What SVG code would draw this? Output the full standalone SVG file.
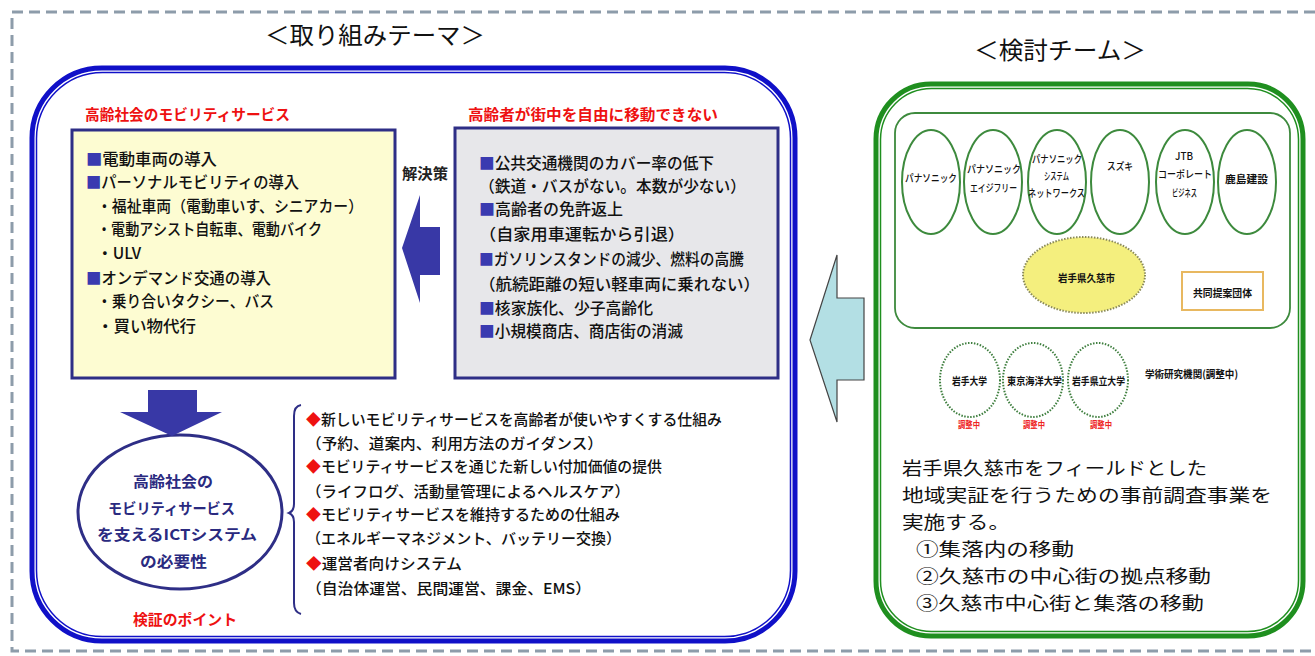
<svg xmlns="http://www.w3.org/2000/svg" width="1315" height="656" viewBox="0 0 1315 656">
<style>
text{font-family:"Noto Sans CJK JP","Noto Sans CJK SC",sans-serif;dominant-baseline:central;}
.title{font-size:24px;fill:#111;}
.red{font-size:15px;font-weight:700;fill:#ee1111;}
.body{font-size:16px;font-weight:500;fill:#111;}
.bul{font-size:15px;font-weight:500;fill:#111;}
.dia{fill:#ee1111;}
.navy{font-size:15px;font-weight:700;fill:#2a2a80;}
.co{font-size:10.5px;font-weight:500;fill:#111;}
.uni{font-size:10.5px;font-weight:700;fill:#111;}
.adj{font-size:9px;font-weight:700;fill:#ee2222;}
.big{font-size:18px;fill:#111;}
.org{fill:#fff;stroke:#3d8a3d;stroke-width:2;}
.dot{fill:#fff;stroke:#3f7f3f;stroke-width:2;stroke-dasharray:1.5 1.5;}
</style>

<path d="M1315 12 H12 V651 H1315" fill="none" stroke="#8d9caa" stroke-width="3" stroke-dasharray="11 6"/>

<text class="title" x="265" y="33" textLength="220" lengthAdjust="spacingAndGlyphs">＜取り組みテーマ＞</text>
<text class="title" x="974" y="48" textLength="172" lengthAdjust="spacingAndGlyphs">＜検討チーム＞</text>

<g id="theme-frame">
<rect x="32" y="68" width="763" height="573" rx="70" fill="#fff" stroke="#1010c8" stroke-width="5"/>
<rect x="36.5" y="72.5" width="754" height="564" rx="66" fill="none" stroke="#1010c8" stroke-width="1.5"/>
</g>

<g id="solution-box">
<text class="red" x="85" y="113" textLength="205" lengthAdjust="spacingAndGlyphs">高齢社会のモビリティサービス</text>
<rect x="72" y="130" width="323" height="248" fill="#fdfcd2" stroke="#2e2e86" stroke-width="3"/>
<text class="body" x="86" y="158" textLength="131" lengthAdjust="spacingAndGlyphs"><tspan fill="#3a3ab0">■</tspan>電動車両の導入</text>
<text class="body" x="86" y="181" textLength="213" lengthAdjust="spacingAndGlyphs"><tspan fill="#3a3ab0">■</tspan>パーソナルモビリティの導入</text>
<text class="body" x="97" y="205" textLength="266" lengthAdjust="spacingAndGlyphs">・福祉車両（電動車いす、シニアカー）</text>
<text class="body" x="97" y="228" textLength="225" lengthAdjust="spacingAndGlyphs">・電動アシスト自転車、電動バイク</text>
<text class="body" x="97" y="252" textLength="44" lengthAdjust="spacingAndGlyphs">・ULV</text>
<text class="body" x="86" y="277" textLength="185" lengthAdjust="spacingAndGlyphs"><tspan fill="#3a3ab0">■</tspan>オンデマンド交通の導入</text>
<text class="body" x="97" y="300" textLength="177" lengthAdjust="spacingAndGlyphs">・乗り合いタクシー、バス</text>
<text class="body" x="97" y="325" textLength="99" lengthAdjust="spacingAndGlyphs">・買い物代行</text>
</g>

<g id="problem-box">
<text class="red" x="468" y="113" textLength="250" lengthAdjust="spacingAndGlyphs">高齢者が街中を自由に移動できない</text>
<rect x="455" y="128" width="323" height="250" fill="#e7e7ea" stroke="#2e2e86" stroke-width="3"/>
<text class="body" x="479" y="162" textLength="235" lengthAdjust="spacingAndGlyphs"><tspan fill="#3a3ab0">■</tspan>公共交通機関のカバー率の低下</text>
<text class="body" x="479" y="185" textLength="267" lengthAdjust="spacingAndGlyphs">（鉄道・バスがない。本数が少ない）</text>
<text class="body" x="479" y="208" textLength="144" lengthAdjust="spacingAndGlyphs"><tspan fill="#3a3ab0">■</tspan>高齢者の免許返上</text>
<text class="body" x="479" y="233" textLength="206" lengthAdjust="spacingAndGlyphs">（自家用車運転から引退）</text>
<text class="body" x="479" y="258" textLength="265" lengthAdjust="spacingAndGlyphs"><tspan fill="#3a3ab0">■</tspan>ガソリンスタンドの減少、燃料の高騰</text>
<text class="body" x="479" y="283" textLength="281" lengthAdjust="spacingAndGlyphs">（航続距離の短い軽車両に乗れない）</text>
<text class="body" x="479" y="307" textLength="174" lengthAdjust="spacingAndGlyphs"><tspan fill="#3a3ab0">■</tspan>核家族化、少子高齢化</text>
<text class="body" x="479" y="330" textLength="204" lengthAdjust="spacingAndGlyphs"><tspan fill="#3a3ab0">■</tspan>小規模商店、商店街の消滅</text>
</g>

<g id="label-solution">
<text x="402" y="172" textLength="46" lengthAdjust="spacingAndGlyphs" style="font-size:15px;font-weight:700;fill:#222;">解決策</text>
</g>

<g id="ict-ellipse">
<ellipse cx="180" cy="512" rx="102" ry="77" fill="#fff" stroke="#2e2e86" stroke-width="3"/>
<text class="navy" x="133" y="480" textLength="80" lengthAdjust="spacingAndGlyphs">高齢社会の</text>
<text class="navy" x="108" y="507" textLength="127" lengthAdjust="spacingAndGlyphs">モビリティサービス</text>
<text class="navy" x="97" y="533" textLength="160" lengthAdjust="spacingAndGlyphs">を支えるICTシステム</text>
<text class="navy" x="140" y="560" textLength="67" lengthAdjust="spacingAndGlyphs">の必要性</text>
<text class="red" x="133" y="618" textLength="104" lengthAdjust="spacingAndGlyphs">検証のポイント</text>
</g>

<g id="points">
<path d="M301 405 Q294 406 294 416 V504 Q294 511 289 513 Q294 515 294 522 V603 Q294 612 301 614" fill="none" stroke="#2e2e86" stroke-width="2"/>
<text class="bul" x="306" y="418" textLength="416" lengthAdjust="spacingAndGlyphs"><tspan class="dia">◆</tspan>新しいモビリティサービスを高齢者が使いやすくする仕組み</text>
<text class="bul" x="306" y="442" textLength="297" lengthAdjust="spacingAndGlyphs">（予約、道案内、利用方法のガイダンス）</text>
<text class="bul" x="306" y="465" textLength="356" lengthAdjust="spacingAndGlyphs"><tspan class="dia">◆</tspan>モビリティサービスを通じた新しい付加価値の提供</text>
<text class="bul" x="306" y="490" textLength="324" lengthAdjust="spacingAndGlyphs">（ライフログ、活動量管理によるヘルスケア）</text>
<text class="bul" x="306" y="513" textLength="314" lengthAdjust="spacingAndGlyphs"><tspan class="dia">◆</tspan>モビリティサービスを維持するための仕組み</text>
<text class="bul" x="306" y="537" textLength="315" lengthAdjust="spacingAndGlyphs">（エネルギーマネジメント、バッテリー交換）</text>
<text class="bul" x="306" y="562" textLength="156" lengthAdjust="spacingAndGlyphs"><tspan class="dia">◆</tspan>運営者向けシステム</text>
<text class="bul" x="306" y="587" textLength="285" lengthAdjust="spacingAndGlyphs">（自治体運営、民間運営、課金、EMS）</text>
</g>

<g id="team-frame">
<rect x="876" y="84" width="427" height="552" rx="55" fill="#fff" stroke="#1f8f1f" stroke-width="5"/>
<rect x="880.5" y="88.5" width="418" height="543" rx="51" fill="none" stroke="#1f8f1f" stroke-width="1.5"/>
</g>

<g id="proposers">
<rect x="895" y="113" width="395" height="215" rx="20" fill="#fff" stroke="#3d8a3d" stroke-width="1.8"/>
</g>

<g id="org-panasonic">
<ellipse class="org" cx="931" cy="182" rx="29" ry="52"/>
<text class="co" x="905" y="177" textLength="52" lengthAdjust="spacingAndGlyphs">パナソニック</text>
</g>
<g id="org-agefree">
<ellipse class="org" cx="993" cy="182" rx="29" ry="52"/>
<text class="co" x="967" y="168" textLength="54" lengthAdjust="spacingAndGlyphs">パナソニック</text>
<text class="co" x="970" y="187" textLength="47" lengthAdjust="spacingAndGlyphs">エイジフリー</text>
</g>
<g id="org-psn">
<ellipse class="org" cx="1057" cy="182" rx="29" ry="52"/>
<text class="co" x="1032" y="158" textLength="50" lengthAdjust="spacingAndGlyphs">パナソニック</text>
<text class="co" x="1044" y="175" textLength="25" lengthAdjust="spacingAndGlyphs">システム</text>
<text class="co" x="1028" y="192" textLength="57" lengthAdjust="spacingAndGlyphs">ネットワークス</text>
</g>
<g id="org-suzuki">
<ellipse class="org" cx="1120" cy="182" rx="29" ry="52"/>
<text class="co" x="1107" y="165" textLength="26" lengthAdjust="spacingAndGlyphs">スズキ</text>
</g>
<g id="org-jtb">
<ellipse class="org" cx="1185" cy="182" rx="29" ry="52"/>
<text class="co" x="1175" y="155" textLength="18" lengthAdjust="spacingAndGlyphs">JTB</text>
<text class="co" x="1158" y="173" textLength="54" lengthAdjust="spacingAndGlyphs">コーポレート</text>
<text class="co" x="1172" y="192" textLength="25" lengthAdjust="spacingAndGlyphs">ビジネス</text>
</g>
<g id="org-kajima">
<ellipse class="org" cx="1247" cy="182" rx="29" ry="52"/>
<text class="co" x="1225" y="178" textLength="43" lengthAdjust="spacingAndGlyphs" style="font-weight:700">鹿島建設</text>
</g>
<g id="org-kuji">
<ellipse cx="1084" cy="275" rx="61" ry="38" fill="#f4ef7e" stroke="#8a8a5a" stroke-width="2" stroke-dasharray="1.5 1.5"/>
<text class="co" x="1058" y="277" textLength="57" lengthAdjust="spacingAndGlyphs" style="font-weight:700">岩手県久慈市</text>
</g>
<g id="legend-joint">
<rect x="1182" y="272" width="81" height="38" fill="#fff" stroke="#e8b860" stroke-width="2"/>
<text class="co" x="1193" y="292" textLength="59" lengthAdjust="spacingAndGlyphs" style="font-weight:700">共同提案団体</text>
</g>

<g id="univ-iwate">
<ellipse class="dot" cx="970" cy="380" rx="30" ry="37"/>
<text class="uni" x="952" y="380" textLength="35" lengthAdjust="spacingAndGlyphs">岩手大学</text>
<text class="adj" x="958" y="424" textLength="22" lengthAdjust="spacingAndGlyphs">調整中</text>
</g>
<g id="univ-tokyo-kaiyo">
<ellipse class="dot" cx="1033" cy="380" rx="30" ry="37"/>
<text class="uni" x="1007" y="380" textLength="55" lengthAdjust="spacingAndGlyphs">東京海洋大学</text>
<text class="adj" x="1023" y="424" textLength="22" lengthAdjust="spacingAndGlyphs">調整中</text>
</g>
<g id="univ-iwate-pref">
<ellipse class="dot" cx="1098" cy="380" rx="30" ry="37"/>
<text class="uni" x="1072" y="380" textLength="53" lengthAdjust="spacingAndGlyphs">岩手県立大学</text>
<text class="adj" x="1090" y="424" textLength="22" lengthAdjust="spacingAndGlyphs">調整中</text>
</g>
<g id="legend-academic">
<text class="uni" x="1145" y="373" textLength="93" lengthAdjust="spacingAndGlyphs">学術研究機関(調整中)</text>
</g>

<g id="team-summary">
<text class="big" x="902" y="467" textLength="305" lengthAdjust="spacingAndGlyphs">岩手県久慈市をフィールドとした</text>
<text class="big" x="902" y="494" textLength="370" lengthAdjust="spacingAndGlyphs">地域実証を行うための事前調査事業を</text>
<text class="big" x="902" y="521" textLength="108" lengthAdjust="spacingAndGlyphs">実施する。</text>
<text class="big" x="916" y="548" textLength="158" lengthAdjust="spacingAndGlyphs">①集落内の移動</text>
<text class="big" x="916" y="575" textLength="295" lengthAdjust="spacingAndGlyphs">②久慈市の中心街の拠点移動</text>
<text class="big" x="916" y="602" textLength="288" lengthAdjust="spacingAndGlyphs">③久慈市中心街と集落の移動</text>
</g>

<g id="connectors">
<polygon points="402,248 420,195 420,227 440,227 440,275 420,275 420,303" fill="#3838a6"/>
<polygon points="148,390 197,390 197,412 222,412 172,436 120,412 148,412" fill="#3838a6"/>
<polygon points="810,340 837,255 837,298 864,298 864,380 837,380 837,422" fill="#b3dfe4" stroke="#444" stroke-width="1.2"/>
</g>
</svg>
